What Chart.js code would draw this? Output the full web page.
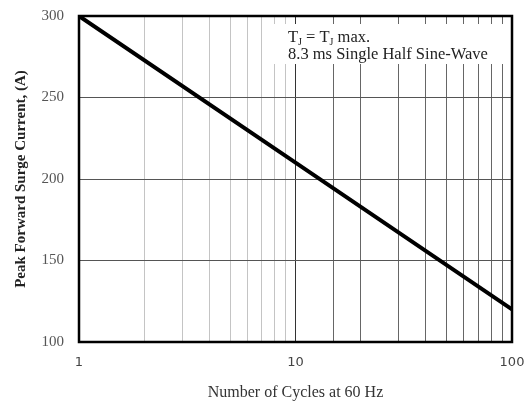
<!DOCTYPE html>
<html>
<head>
<meta charset="utf-8">
<script src="https://cdn.jsdelivr.net/npm/chart.js@4"></script>
<style>
html, body { margin: 0; padding: 0; background: #fff; }
#wrap { width: 527px; height: 402px; }
</style>
</head>
<body>
<div id="wrap"><canvas id="surge"></canvas></div>
<script>
// data (straight line on log x)
var cycles = [1, 10, 100];
var surgeCurrent = [300, 210, 120];
var xTickLabels = [1, 10, 100];
var yMin = 100, yMax = 300, yStep = 50;

var serif = '"Liberation Serif", "Times New Roman", serif';

var framePlugin = {
    id: 'frame',
    afterDraw: function(chart) {
        var ctx = chart.ctx, a = chart.chartArea;
        ctx.save();
        // white box behind the note
        ctx.fillStyle = '#fff';
        ctx.fillRect(272, 24, 235, 40);

        ctx.strokeStyle = '#000';
        ctx.lineWidth = 2.5;
        ctx.strokeRect(a.left, a.top, a.right - a.left, a.bottom - a.top);

        var x = 288, y = 42;
        ctx.fillStyle = '#222';
        ctx.textBaseline = 'alphabetic';
        var big = '16.5px ' + serif, small = '10px ' + serif;
        function put(txt, font, dy) {
            ctx.font = font;
            ctx.fillText(txt, x, y + dy);
            x += ctx.measureText(txt).width;
        }
        put('T', big, 0); put('J', small, 3); put(' = T', big, 0); put('J', small, 3); put(' max.', big, 0);
        ctx.font = big;
        ctx.fillText('8.3 ms Single Half Sine-Wave', 288, 59);
        ctx.restore();
    }
};

var ctx = document.getElementById('surge').getContext('2d');
var myChart = new Chart(ctx, {
    type: 'line',
    data: {
        datasets: [{
            data: cycles.map(function(c, i) { return { x: c, y: surgeCurrent[i] }; }),
            borderColor: '#000',
            borderWidth: 4,
            pointRadius: 0,
            tension: 0,
            fill: false
        }]
    },
    options: {
        responsive: true,
        maintainAspectRatio: false,
        animation: false,
        layout: { padding: { top: 16, right: 15, left: 0, bottom: 0 } },
        plugins: { legend: { display: false }, tooltip: { enabled: false } },
        scales: {
            x: {
                type: 'logarithmic',
                min: 1,
                max: 100,
                afterFit: function(s) { s.height = 60; s.paddingLeft = 0; s.paddingRight = 0; },
                border: { display: false },
                grid: {
                    drawTicks: false,
                    lineWidth: 1,
                    color: function(c) {
                        var v = c.tick ? c.tick.value : 0;
                        if (v === 10) return '#333';
                        return v < 10 ? '#c4c4c4' : '#666';
                    }
                },
                ticks: {
                    autoSkip: false,
                    maxRotation: 0,
                    padding: 13,
                    color: '#444',
                    font: { family: '"DejaVu Sans", sans-serif', size: 13 },
                    callback: function(v) {
                        return xTickLabels.indexOf(v) >= 0 ? String(v) : '';
                    }
                },
                title: {
                    display: true,
                    text: 'Number of Cycles at 60 Hz',
                    color: '#333',
                    font: { family: serif, size: 16 },
                    padding: { top: 0, bottom: 0 }
                }
            },
            y: {
                min: yMin,
                max: yMax,
                afterFit: function(s) { s.width = 79; s.paddingTop = 0; s.paddingBottom = 0; },
                border: { display: false },
                grid: { drawTicks: false, color: '#555', lineWidth: 1 },
                ticks: {
                    stepSize: yStep,
                    padding: 15,
                    color: '#555',
                    font: { family: serif, size: 15 }
                },
                title: {
                    display: true,
                    text: 'Peak Forward Surge Current, (A)',
                    color: '#222',
                    font: { family: serif, size: 15, weight: 'bold' },
                    padding: { top: 12, bottom: 0 }
                }
            }
        }
    },
    plugins: [framePlugin]
});
</script>
</body>
</html>
